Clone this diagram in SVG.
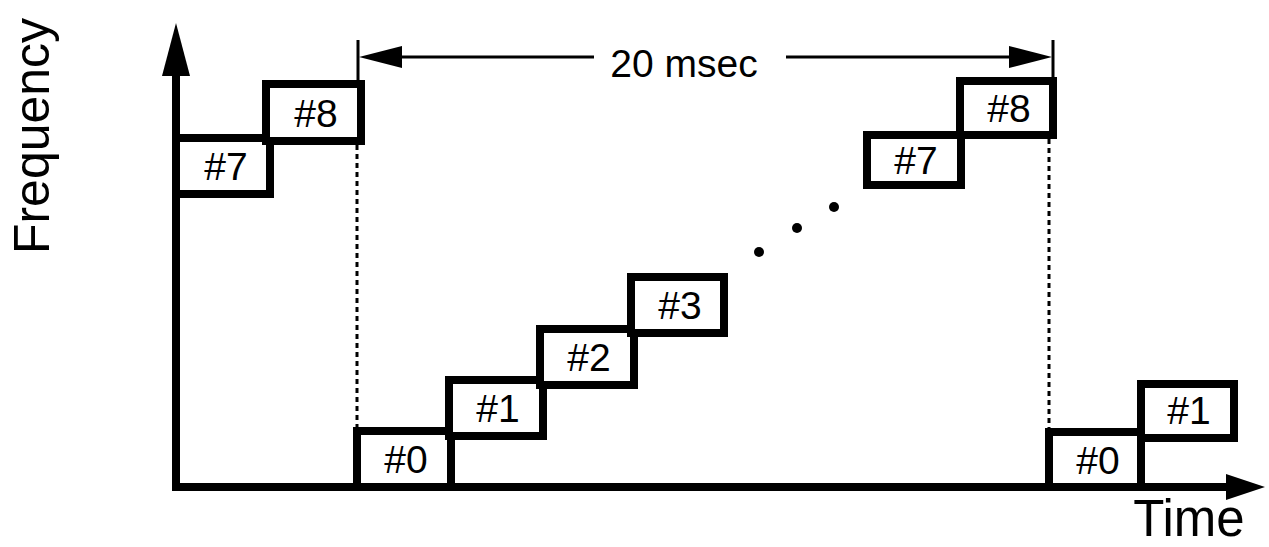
<svg xmlns="http://www.w3.org/2000/svg" width="1269" height="547" viewBox="0 0 1269 547">
  <style>
    .slot rect { fill: #fff; stroke: #000; stroke-width: 8; }
    .slot text { font-family: "Liberation Sans", Arial, sans-serif; font-size: 39px; text-anchor: middle; fill: #000; }
    .axis { stroke: #000; stroke-width: 8; fill: none; }
    .dim { stroke: #000; stroke-width: 3; fill: none; }
    .dot { stroke: #000; stroke-width: 3; stroke-dasharray: 5 4; fill: none; }
    .lbl { font-family: "Liberation Sans", Arial, sans-serif; fill: #000; }
  </style>

  <!-- axes, markers and dimension line -->
  <g id="connectors">
    <line class="axis" x1="176" y1="70" x2="176" y2="491"/>
    <polygon points="176,23 162,76 190,76" fill="#000"/>
    <line class="axis" x1="172" y1="487" x2="1230" y2="487"/>
    <polygon points="1265,487 1226,474 1226,500" fill="#000"/>

    <line class="dot" x1="357" y1="145" x2="357" y2="430"/>
    <line class="dot" x1="1049" y1="139" x2="1049" y2="431"/>

    <line class="dim" x1="358" y1="40" x2="358" y2="82"/>
    <line class="dim" x1="1053" y1="40" x2="1053" y2="79"/>
    <line class="dim" x1="395" y1="57" x2="594" y2="57"/>
    <line class="dim" x1="786" y1="57" x2="1016" y2="57"/>
    <polygon points="359,57 402,46 402,68" fill="#000"/>
    <polygon points="1052,57 1009,46 1009,68" fill="#000"/>

    <circle cx="759" cy="252" r="5" fill="#000"/>
    <circle cx="797" cy="228" r="5" fill="#000"/>
    <circle cx="834" cy="207" r="5" fill="#000"/>
  </g>

  <text class="lbl" x="684" y="77" font-size="39" text-anchor="middle">20 msec</text>
  <text class="lbl" x="1189" y="536" font-size="51" text-anchor="middle">Time</text>
  <text class="lbl" transform="translate(49,136) rotate(-90)" font-size="50" text-anchor="middle">Frequency</text>

  <g id="slot-7a" class="slot"><rect x="176" y="138" width="94" height="56"/><text x="226" y="180">#7</text></g>
  <g id="slot-8a" class="slot"><rect x="266" y="84" width="95" height="57"/><text x="316" y="127">#8</text></g>

  <g id="slot-0" class="slot"><rect x="357" y="431" width="94" height="56"/><text x="406" y="473">#0</text></g>
  <g id="slot-1" class="slot"><rect x="449" y="380" width="94" height="56"/><text x="498" y="422">#1</text></g>
  <g id="slot-2" class="slot"><rect x="540" y="329" width="94" height="56"/><text x="589" y="371">#2</text></g>
  <g id="slot-3" class="slot"><rect x="631" y="277" width="93" height="56"/><text x="680" y="319">#3</text></g>

  <g id="slot-7b" class="slot"><rect x="867" y="135" width="94" height="50"/><text x="916" y="174">#7</text></g>
  <g id="slot-8b" class="slot"><rect x="960" y="81" width="93" height="54"/><text x="1009" y="122">#8</text></g>

  <g id="slot-0b" class="slot"><rect x="1049" y="432" width="92" height="55"/><text x="1098" y="474">#0</text></g>
  <g id="slot-1b" class="slot"><rect x="1141" y="384" width="93" height="54"/><text x="1189" y="424">#1</text></g>
</svg>
